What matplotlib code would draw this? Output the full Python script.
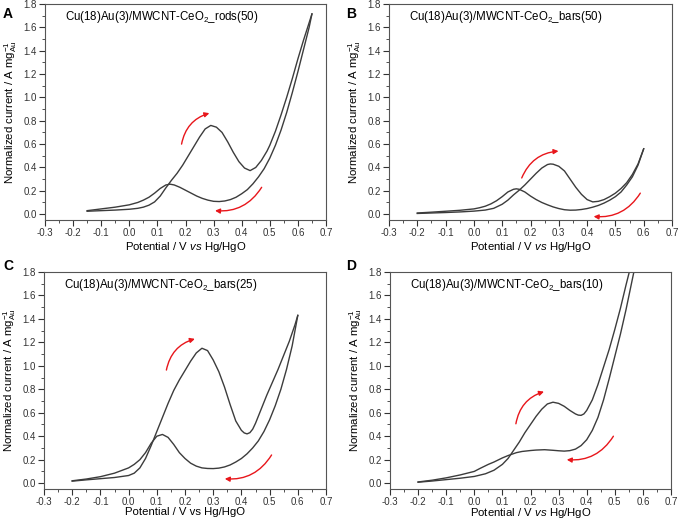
import matplotlib
matplotlib.use('Agg')
import matplotlib.pyplot as plt

plt.rcParams['font.family'] = ['Liberation Sans', 'DejaVu Sans']
plt.rcParams['mathtext.fontset'] = 'custom'
plt.rcParams['mathtext.rm'] = 'Liberation Sans'
plt.rcParams['mathtext.it'] = 'Liberation Sans:italic'

# === DATA ===
titles = ['Cu(18)Au(3)/MWCNT-CeO$_2$_rods(50)',
          'Cu(18)Au(3)/MWCNT-CeO$_2$_bars(50)',
          'Cu(18)Au(3)/MWCNT-CeO$_2$_bars(25)',
          'Cu(18)Au(3)/MWCNT-CeO$_2$_bars(10)']
letters = ['A', 'B', 'C', 'D']

# panel A  (forward = anodic scan, backward = cathodic scan)
a_fx = [-0.15, -0.10, -0.05, 0.00, 0.03, 0.05, 0.07, 0.09, 0.11, 0.13, 0.15, 0.17, 0.19, 0.21, 0.23,
        0.25, 0.27, 0.29, 0.31, 0.33, 0.35, 0.37, 0.39, 0.41, 0.43, 0.45, 0.47, 0.49, 0.50, 0.52,
        0.54, 0.56, 0.58, 0.60, 0.62, 0.64, 0.65]
a_fy = [0.025, 0.030, 0.035, 0.042, 0.050, 0.060, 0.077, 0.105, 0.155, 0.225, 0.29, 0.35, 0.42, 0.50, 0.58,
        0.66, 0.73, 0.76, 0.745, 0.70, 0.62, 0.53, 0.45, 0.395, 0.373, 0.40, 0.46, 0.54, 0.59, 0.71,
        0.85, 1.00, 1.16, 1.33, 1.49, 1.64, 1.715]
a_bx = [0.65, 0.64, 0.62, 0.60, 0.58, 0.56, 0.54, 0.52, 0.50, 0.48, 0.46, 0.44, 0.42, 0.40, 0.38,
        0.36, 0.34, 0.32, 0.30, 0.28, 0.26, 0.24, 0.22, 0.20, 0.18, 0.16, 0.145, 0.13, 0.11, 0.09,
        0.07, 0.05, 0.03, 0.00, -0.05, -0.10, -0.15]
a_by = [1.715, 1.60, 1.41, 1.22, 1.04, 0.87, 0.72, 0.59, 0.48, 0.39, 0.32, 0.26, 0.21, 0.175, 0.145,
        0.125, 0.113, 0.108, 0.11, 0.12, 0.135, 0.155, 0.18, 0.205, 0.23, 0.25, 0.257, 0.25, 0.22, 0.18,
        0.145, 0.12, 0.10, 0.08, 0.06, 0.045, 0.03]

# panel B
b_fx = [-0.20, -0.15, -0.10, -0.05, 0.00, 0.04, 0.07, 0.10, 0.12, 0.14, 0.16, 0.18, 0.20, 0.22, 0.24,
        0.26, 0.27, 0.28, 0.30, 0.32, 0.34, 0.36, 0.38, 0.40, 0.42, 0.44, 0.46, 0.48, 0.50, 0.52,
        0.54, 0.56, 0.58, 0.60]
b_fy = [0.006, 0.010, 0.014, 0.019, 0.026, 0.035, 0.050, 0.085, 0.12, 0.165, 0.205, 0.25, 0.30, 0.35, 0.395,
        0.425, 0.43, 0.428, 0.41, 0.37, 0.30, 0.23, 0.17, 0.125, 0.105, 0.11, 0.125, 0.15, 0.18, 0.22,
        0.27, 0.34, 0.43, 0.56]
b_bx = [0.60, 0.58, 0.56, 0.54, 0.52, 0.50, 0.48, 0.46, 0.44, 0.42, 0.40, 0.38, 0.36, 0.34, 0.32,
        0.30, 0.28, 0.26, 0.24, 0.22, 0.20, 0.18, 0.16, 0.15, 0.14, 0.12, 0.10, 0.08, 0.06, 0.04,
        0.02, 0.00, -0.05, -0.10, -0.15, -0.20]
b_by = [0.56, 0.42, 0.32, 0.25, 0.19, 0.15, 0.12, 0.095, 0.075, 0.06, 0.048, 0.04, 0.035, 0.034, 0.038,
        0.048, 0.062, 0.08, 0.10, 0.125, 0.155, 0.19, 0.213, 0.217, 0.213, 0.19, 0.15, 0.115, 0.088, 0.068,
        0.055, 0.045, 0.033, 0.025, 0.017, 0.01]

# panel C
c_fx = [-0.20, -0.15, -0.10, -0.05, 0.00, 0.02, 0.04, 0.06, 0.08, 0.10, 0.12, 0.14, 0.16, 0.18, 0.20,
        0.22, 0.24, 0.26, 0.28, 0.30, 0.32, 0.34, 0.36, 0.38, 0.40, 0.41, 0.42, 0.43, 0.44, 0.45,
        0.47, 0.49, 0.51, 0.53, 0.55, 0.57, 0.59, 0.60]
c_fy = [0.017, 0.028, 0.038, 0.048, 0.065, 0.085, 0.13, 0.21, 0.32, 0.44, 0.56, 0.68, 0.79, 0.88, 0.96,
        1.04, 1.11, 1.15, 1.13, 1.05, 0.95, 0.82, 0.67, 0.53, 0.45, 0.428, 0.42, 0.43, 0.46, 0.51,
        0.63, 0.75, 0.86, 0.97, 1.09, 1.21, 1.35, 1.43]
c_bx = [0.60, 0.58, 0.56, 0.54, 0.52, 0.50, 0.48, 0.46, 0.44, 0.42, 0.40, 0.38, 0.36, 0.34, 0.32,
        0.30, 0.28, 0.26, 0.24, 0.22, 0.20, 0.18, 0.16, 0.14, 0.12, 0.10, 0.08, 0.06, 0.04, 0.02,
        0.00, -0.05, -0.10, -0.15, -0.20]
c_by = [1.43, 1.17, 0.97, 0.80, 0.66, 0.54, 0.44, 0.36, 0.30, 0.25, 0.21, 0.18, 0.155, 0.138, 0.128,
        0.124, 0.125, 0.13, 0.145, 0.17, 0.21, 0.26, 0.33, 0.39, 0.415, 0.40, 0.34, 0.26, 0.20, 0.16,
        0.13, 0.085, 0.055, 0.035, 0.02]

# panel D
d_fx = [-0.20, -0.15, -0.10, -0.05, 0.00, 0.04, 0.07, 0.10, 0.12, 0.14, 0.16, 0.18, 0.20, 0.22, 0.24,
        0.26, 0.28, 0.30, 0.32, 0.34, 0.36, 0.37, 0.38, 0.39, 0.40, 0.42, 0.44, 0.46, 0.48, 0.50,
        0.52, 0.54, 0.56, 0.58]
d_fy = [0.008, 0.018, 0.03, 0.042, 0.057, 0.08, 0.11, 0.16, 0.21, 0.28, 0.35, 0.43, 0.50, 0.57, 0.63,
        0.675, 0.69, 0.68, 0.655, 0.62, 0.59, 0.58, 0.578, 0.59, 0.62, 0.71, 0.84, 0.99, 1.14, 1.31,
        1.49, 1.69, 1.88, 2.07]
d_bx = [0.60, 0.58, 0.56, 0.54, 0.52, 0.50, 0.48, 0.46, 0.44, 0.42, 0.40, 0.38, 0.36, 0.34, 0.32,
        0.30, 0.28, 0.25, 0.22, 0.20, 0.17, 0.15, 0.12, 0.10, 0.07, 0.05, 0.02, 0.00, -0.05, -0.10,
        -0.15, -0.20]
d_by = [2.20, 1.94, 1.71, 1.48, 1.27, 1.08, 0.89, 0.71, 0.56, 0.45, 0.37, 0.32, 0.29, 0.277, 0.273,
        0.276, 0.28, 0.285, 0.282, 0.278, 0.27, 0.26, 0.235, 0.215, 0.18, 0.16, 0.125, 0.10, 0.07, 0.045,
        0.025, 0.01]

curves = [(a_fx, a_fy, a_bx, a_by), (b_fx, b_fy, b_bx, b_by),
          (c_fx, c_fy, c_bx, c_by), (d_fx, d_fy, d_bx, d_by)]

# scan direction arrows: (start, end) for anodic / cathodic
arrows = [[((0.186, 0.60), (0.285, 0.865)), ((0.471, 0.23), (0.305, 0.03))],
          [((0.169, 0.31), (0.299, 0.54)), ((0.588, 0.18), (0.423, -0.02))],
          [((0.134, 0.964), (0.235, 1.23)), ((0.507, 0.24), (0.341, 0.037))],
          [((0.148, 0.506), (0.248, 0.78)), ((0.495, 0.40), (0.329, 0.20))]]

xlabels = ['Potential / V $\\it{vs}$ Hg/HgO', 'Potential / V $\\it{vs}$ Hg/HgO',
           'Potential / V vs Hg/HgO', 'Potential / V $\\it{vs}$ Hg/HgO']
ylabel = 'Normalized current / A mg$_{\\mathrm{Au}}^{-1}$'

# axes rectangles in figure pixels (left, top, right, bottom)
W, H = 679, 521
boxes = [(45, 4, 326, 220), (389, 4, 672, 220), (44, 272, 326, 489), (390, 272, 671, 489)]
letter_pos = [(3, 18), (346, 18), (3, 270), (346, 270)]
xlabel_pad = [1, 1, 0, -1]

fig = plt.figure(figsize=(W / 100, H / 100), dpi=100)
line_col = '#3c3c3c'

for i in range(4):
    l, t, r, b = boxes[i]
    ax = fig.add_axes([l / W, 1 - b / H, (r - l) / W, (b - t) / H])
    fx, fy, bx, by = curves[i]
    ax.plot(fx, fy, color=line_col, lw=1.0)
    ax.plot(bx, by, color=line_col, lw=1.0)

    for (s, e) in arrows[i]:
        ax.annotate('', xy=e, xytext=s,
                    arrowprops=dict(arrowstyle='-|>', color='#e8161b', lw=1.0,
                                    mutation_scale=7, shrinkA=0, shrinkB=0,
                                    connectionstyle='arc3,rad=-0.3'))

    ax.set_xlim(-0.3, 0.7)
    ax.set_ylim(-0.05, 1.8)
    ax.set_xticks([-0.3 + 0.1 * k for k in range(11)])
    ax.set_xticklabels(['-0.3', '-0.2', '-0.1', '0.0', '0.1', '0.2', '0.3', '0.4', '0.5', '0.6', '0.7'])
    ax.set_yticks([0.2 * k for k in range(10)])
    ax.set_yticklabels(['%.1f' % (0.2 * k) for k in range(10)])
    ax.set_xticks([-0.25 + 0.1 * k for k in range(10)], minor=True)
    ax.set_yticks([0.1 + 0.2 * k for k in range(9)], minor=True)
    ax.tick_params(which='major', direction='out', length=4, width=0.8, labelsize=7,
                   colors='#333333', pad=2)
    ax.tick_params(which='minor', direction='out', length=2, width=0.6, colors='#333333')
    for sp in ax.spines.values():
        sp.set_color('#555555')
        sp.set_linewidth(0.8)

    ax.set_xlabel(xlabels[i], fontsize=8.2, labelpad=xlabel_pad[i])
    ax.set_ylabel(ylabel, fontsize=8.2, labelpad=3)
    ax.text(0.07, 0.94, titles[i], transform=ax.transAxes, fontsize=8.3, va='center', ha='left')

    fig.text(letter_pos[i][0] / W, 1 - letter_pos[i][1] / H, letters[i], fontsize=10,
             fontweight='bold', ha='left', va='baseline')

fig.savefig('out.png', dpi=100)
